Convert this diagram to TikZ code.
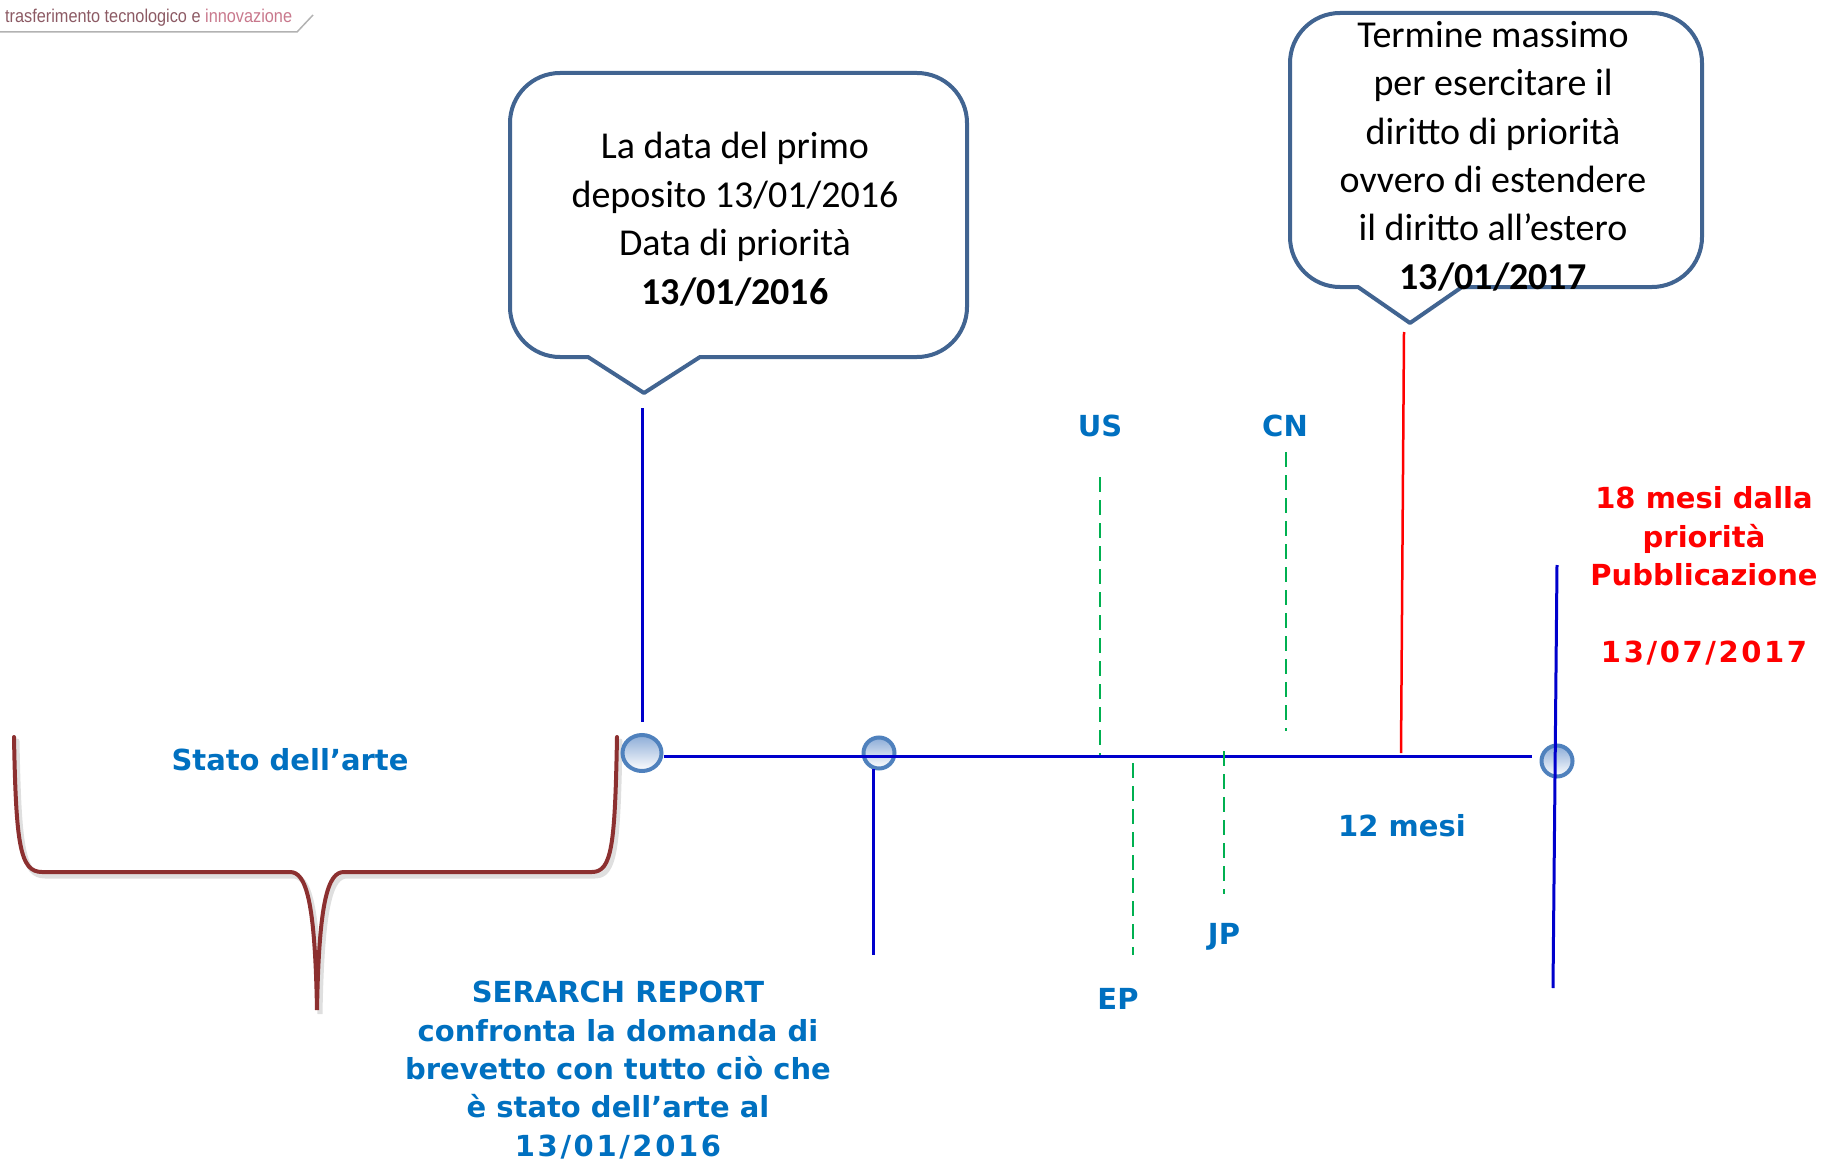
\documentclass[tikz,border=0pt]{standalone}
\usepackage{fontspec}
\setmainfont{Carlito}
\newfontfamily\dv{DejaVu Sans}
\newfontfamily\lib{Liberation Sans}
\usetikzlibrary{shapes.geometric}
\definecolor{calloutblue}{RGB}{65,100,145}
\definecolor{lineblue}{RGB}{0,0,204}
\definecolor{txtblue}{RGB}{0,112,192}
\definecolor{dgreen}{RGB}{0,176,80}
\definecolor{bracered}{RGB}{140,48,48}
\definecolor{circborder}{RGB}{79,129,189}
\definecolor{circtop}{RGB}{140,172,215}
\definecolor{logoA}{RGB}{140,90,100}
\definecolor{logoB}{RGB}{200,120,140}
\begin{document}
\begin{tikzpicture}[x=1pt,y=-1pt,
  callout/.style={draw=calloutblue, line width=4pt, fill=white, line join=round},
  calltext/.style={align=center, inner sep=0pt, font=\fontsize{38}{48.5}\selectfont},
  lab/.style={inner sep=0pt, text=txtblue, font=\dv\bfseries\fontsize{29}{38.3}\selectfont, align=center},
  redlab/.style={inner sep=0pt, text=red, font=\dv\bfseries\fontsize{29}{38.5}\selectfont, align=center},
  tl/.style={draw=lineblue, line width=3pt},
  gdash/.style={draw=dgreen, line width=2pt, dash pattern=on 15pt off 8pt},
  redline/.style={draw=red, line width=2.5pt},
  dot/.style={ellipse, draw=circborder, line width=4pt, top color=circtop, bottom color=white, inner sep=0pt},
  bracepath/.style={draw=bracered, line width=4pt, line cap=round},
]
\useasboundingbox (0,0) rectangle (1826,1161);

% logo
\node[anchor=west, inner sep=0pt] (logo) at (5,18) {\scalebox{0.88}[1]{\lib\fontsize{18.5}{18.5}\selectfont\color{logoA}trasferimento tecnologico e \color{logoB}innovazione}};
\coordinate (lg1) at (0,32);
\coordinate (lg2) at (297,32);
\coordinate (lg3) at (313,15);
\draw[gray!60, line width=1.5pt] (lg1) -- (lg2) -- (lg3);

% brace shadow and brace
\begin{scope}[shift={(3,4)}]
\draw[bracepath, draw=gray, opacity=0.25, line width=5pt]
  (14,737) .. controls (16,845) and (20,872) .. (42,872) -- (290,872)
  .. controls (306,872) and (315,900) .. (317,1010)
  .. controls (319,900) and (328,872) .. (344,872) -- (592,872)
  .. controls (612,872) and (615,845) .. (617,737);
\end{scope}
\draw[bracepath] (14,737) .. controls (16,845) and (20,872) .. (42,872) -- (290,872)
  .. controls (306,872) and (315,900) .. (317,1010)
  .. controls (319,900) and (328,872) .. (344,872) -- (592,872)
  .. controls (612,872) and (615,845) .. (617,737);

% callout 1
\draw[callout] (588,357) -- (644,393) -- (700,357) -- (917,357)
  .. controls (944.6,357) and (967,334.6) .. (967,307) -- (967,123)
  .. controls (967,95.4) and (944.6,73) .. (917,73) -- (560,73)
  .. controls (532.4,73) and (510,95.4) .. (510,123) -- (510,307)
  .. controls (510,334.6) and (532.4,357) .. (560,357) -- cycle;
\node[calltext] (t1) at (735,219) {La data del primo\\deposito 13/01/2016\\Data di priorità\\\textbf{13/01/2016}};

% callout 2
\draw[callout] (1358,287) -- (1410,323) -- (1462,287) -- (1652,287)
  .. controls (1679.6,287) and (1702,264.6) .. (1702,237) -- (1702,63)
  .. controls (1702,35.4) and (1679.6,13) .. (1652,13) -- (1340,13)
  .. controls (1312.4,13) and (1290,35.4) .. (1290,63) -- (1290,237)
  .. controls (1290,264.6) and (1312.4,287) .. (1340,287) -- cycle;
\node[calltext, font=\fontsize{38}{48.4}\selectfont] (t2) at (1493,156) {Termine massimo\\per esercitare il\\diritto di priorità\\ovvero di estendere\\il diritto all’estero\\\textbf{13/01/2017}};

% circles
\node[dot, minimum width=39pt, minimum height=36pt] (c1) at (642,753) {};
\node[dot, minimum width=31pt, minimum height=31pt] (c2) at (879,753) {};
\node[dot, minimum width=31pt, minimum height=31pt] (c3) at (1557,761) {};

% coordinates
\coordinate (hEnd) at (1532,756);
\coordinate (v1a) at (642,408);
\coordinate (v1b) at (642,722);
\coordinate (v2a) at (873,769);
\coordinate (v2b) at (873,955);
\coordinate (v3a) at (1557,565);
\coordinate (v3b) at (1553,988);
\coordinate (rA) at (1404,332);
\coordinate (rB) at (1401,753);
\coordinate (usA) at (1100,477);
\coordinate (usB) at (1100,755);
\coordinate (epA) at (1133,763);
\coordinate (epB) at (1133,955);
\coordinate (jpA) at (1224,751);
\coordinate (jpB) at (1224,894);
\coordinate (cnA) at (1286,452);
\coordinate (cnB) at (1286,731);

% timeline
\draw[tl] (c1.east |- hEnd) -- (hEnd);
\draw[tl] (v1a) -- (v1b);
\draw[tl] (v2a) -- (v2b);
\draw[tl] (v3a) -- (v3b);
\draw[redline] (rA) -- (rB);
\draw[gdash] (usA) -- (usB);
\draw[gdash] (epA) -- (epB);
\draw[gdash] (jpA) -- (jpB);
\draw[gdash] (cnA) -- (cnB);

% labels
\node[lab, anchor=base] (us) at (1100,436) {US};
\node[lab, anchor=base] (cn) at (1285,436) {CN};
\node[lab, anchor=base] (ep) at (1118,1009) {EP};
\node[lab, anchor=base] (jp) at (1224,944) {JP};
\node[lab, anchor=base] (mesi12) at (1402,836) {12 mesi};
\node[lab, anchor=base] (stato) at (290,770) {Stato dell’arte};
\node[lab] (search) at (618,1070) {SERARCH REPORT\\confronta la domanda di\\brevetto con tutto ciò che\\è stato dell’arte al\\{\addfontfeature{LetterSpace=9}13/01/2016}};
\node[redlab] (pub) at (1704,576) {18 mesi dalla\\priorità\\Pubblicazione\\[38.5pt]{\addfontfeature{LetterSpace=9}13/07/2017}};
\end{tikzpicture}
\end{document}
